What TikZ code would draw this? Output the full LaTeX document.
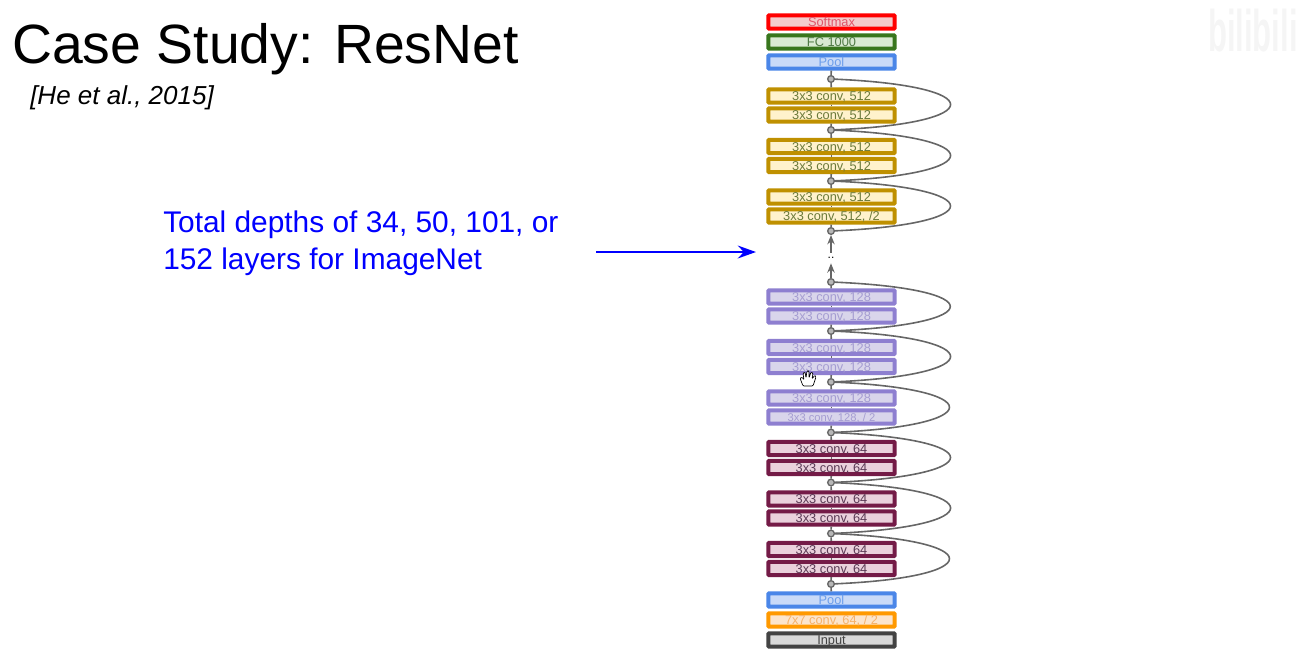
\documentclass[tikz,border=0pt]{standalone}
\usepackage{fontspec}
\setmainfont{Liberation Sans}
\usepackage{tikz}
\usetikzlibrary{arrows.meta}
\definecolor{SoftRed}{HTML}{FF0000}
\definecolor{SoftPale}{HTML}{F4CCCC}
\definecolor{SoftText}{HTML}{E0556A}
\definecolor{FcGreen}{HTML}{38761D}
\definecolor{FcPale}{HTML}{D9EAD3}
\definecolor{FcText}{HTML}{4F7A45}
\definecolor{PoolBlue}{HTML}{4A86E8}
\definecolor{PoolPale}{HTML}{C9DAF8}
\definecolor{PoolText}{HTML}{6D9EEB}
\definecolor{GoldLine}{HTML}{BF9000}
\definecolor{GoldPale}{HTML}{FFF2CC}
\definecolor{GoldText}{HTML}{6B7A3A}
\definecolor{PurpleLine}{HTML}{8E7FD0}
\definecolor{PurplePale}{HTML}{D9D5EB}
\definecolor{PurpleText}{HTML}{A59DD2}
\definecolor{WineLine}{HTML}{741B47}
\definecolor{WinePale}{HTML}{EAD1DC}
\definecolor{WineText}{HTML}{5B3A55}
\definecolor{OrangeLine}{HTML}{FF9900}
\definecolor{OrangePale}{HTML}{FCE5CD}
\definecolor{OrangeText}{HTML}{F6B26B}
\definecolor{InputLine}{HTML}{434343}
\definecolor{InputPale}{HTML}{D9D9D9}
\definecolor{LinkGray}{HTML}{666666}
\definecolor{JointGray}{HTML}{B7B7B7}
\definecolor{MarkGray}{HTML}{F5F5F5}

\begin{document}
\begin{tikzpicture}[>=stealth,x=0.75pt,y=-0.75pt]
  \tikzstyle{layerbox}=[draw,line width=3pt,inner sep=0pt,
    minimum width=94.6pt,minimum height=10pt,rounded corners=0.5pt,
    text height=7pt,text depth=0pt,
    font=\fontsize{9.6}{11}\selectfont]
  \tikzstyle{softbox}=[layerbox,draw=SoftRed,fill=SoftPale,text=SoftText]
  \tikzstyle{fcbox}=[layerbox,draw=FcGreen,fill=FcPale,text=FcText]
  \tikzstyle{poolbox}=[layerbox,draw=PoolBlue,fill=PoolPale,text=PoolText]
  \tikzstyle{goldbox}=[layerbox,draw=GoldLine,fill=GoldPale,text=GoldText]
  \tikzstyle{purplebox}=[layerbox,draw=PurpleLine,fill=PurplePale,text=PurpleText]
  \tikzstyle{winebox}=[layerbox,draw=WineLine,fill=WinePale,text=WineText]
  \tikzstyle{orangebox}=[layerbox,draw=OrangeLine,fill=OrangePale,text=OrangeText]
  \tikzstyle{inputbox}=[layerbox,draw=InputLine,fill=InputPale,text=InputLine]
  \tikzstyle{joint}=[circle,draw=LinkGray,fill=JointGray,line width=1pt,
    inner sep=0pt,minimum size=5pt]
  \tikzstyle{link}=[draw=LinkGray,line width=1.2pt]
  \tikzstyle{skip}=[link,out=-2.5,in=2.5,looseness=7.8]
  \tikzstyle{uptip}=[link,-{Stealth[length=7pt,width=5.5pt]}]

  \useasboundingbox (0,0) rectangle (1312,660);

  \node[anchor=base west,font=\fontsize{41.5}{46}\selectfont,inner sep=0pt] (title) at (12,64) {Case Study: ResNet};
  \node[anchor=base west,font=\fontsize{19.5}{24}\itshape,inner sep=0pt] (cite) at (30,104) {[He et al., 2015]};
  \node[anchor=north west,align=left,text=blue,inner sep=0pt,
    font=\fontsize{22.4}{27.75}\selectfont] (depths) at (163,211)
    {Total depths of 34, 50, 101, or\\152 layers for ImageNet};
  \node[anchor=base east,text=MarkGray,inner sep=0pt,xscale=0.53,transform shape,
    font=\fontsize{44}{46}\bfseries] (mark) at (1298,52) {bilibili};

  \coordinate (arrowfrom) at (596,252);
  \coordinate (arrowto) at (756,252);
  \draw[-{Stealth[length=13.5pt,width=9.5pt]},blue,line width=2.2pt] (arrowfrom)--(arrowto);

  \node[softbox] (softmax) at (831.5,22) {Softmax};
  \node[fcbox] (fc) at (831.5,42) {FC 1000};
  \node[poolbox] (pooltop) at (831.5,62) {Pool};
  \node[goldbox] (g1) at (831.5,96) {3x3 conv, 512};
  \node[goldbox] (g2) at (831.5,115) {3x3 conv, 512};
  \node[goldbox] (g3) at (831.5,146.5) {3x3 conv, 512};
  \node[goldbox] (g4) at (831.5,165.5) {3x3 conv, 512};
  \node[goldbox] (g5) at (831.5,197) {3x3 conv, 512};
  \node[goldbox] (g6) at (831.5,216) {3x3 conv, 512, /2};
  \node[purplebox] (p1) at (831.5,297) {3x3 conv, 128};
  \node[purplebox] (p2) at (831.5,316) {3x3 conv, 128};
  \node[purplebox] (p3) at (831.5,347.5) {3x3 conv, 128};
  \node[purplebox] (p4) at (831.5,366.5) {3x3 conv, 128};
  \node[purplebox] (p5) at (831.5,398) {3x3 conv, 128};
  \node[purplebox,font=\fontsize{8.4}{10}\selectfont] (p6) at (831.5,417) {3x3 conv, 128, / 2};
  \node[winebox] (w1) at (831.5,448.5) {3x3 conv, 64};
  \node[winebox] (w2) at (831.5,467.5) {3x3 conv, 64};
  \node[winebox] (w3) at (831.5,499) {3x3 conv, 64};
  \node[winebox] (w4) at (831.5,518) {3x3 conv, 64};
  \node[winebox] (w5) at (831.5,549.5) {3x3 conv, 64};
  \node[winebox] (w6) at (831.5,568.5) {3x3 conv, 64};
  \node[poolbox] (poolbot) at (831.5,600) {Pool};
  \node[orangebox] (conv7) at (831.5,620) {7x7 conv, 64, / 2};
  \node[inputbox] (input) at (831.5,640) {Input};

  \node[joint] (j1) at (831,79) {};
  \node[joint] (j2) at (831,130) {};
  \node[joint] (j3) at (831,181) {};
  \node[joint] (j4) at (831,231) {};
  \node[joint] (j5) at (831,282) {};
  \node[joint] (j6) at (831,331) {};
  \node[joint] (j7) at (831,382) {};
  \node[joint] (j8) at (831,432.5) {};
  \node[joint] (j9) at (831,482.5) {};
  \node[joint] (j10) at (831,533.5) {};
  \node[joint] (j11) at (831,584) {};
  \node[inner sep=0pt,minimum height=7.5pt,text=black,font=\fontsize{9}{9}\selectfont] (dots) at (831,258) {..};

  \draw[link] (j1)--(pooltop);
  \draw[link] (j1)--(g1);
  \draw[link] (g1)--(g2);
  \draw[link] (g2)--(j2);
  \draw[link] (j2)--(g3);
  \draw[link] (g3)--(g4);
  \draw[link] (g4)--(j3);
  \draw[link] (j3)--(g5);
  \draw[link] (g5)--(g6);
  \draw[link] (g6)--(j4);
  \draw[uptip] (dots)--(j4);
  \draw[uptip] (j5)--(dots);
  \draw[link] (j5)--(p1);
  \draw[link] (p1)--(p2);
  \draw[link] (p2)--(j6);
  \draw[link] (j6)--(p3);
  \draw[link] (p3)--(p4);
  \draw[link] (p4)--(j7);
  \draw[link] (j7)--(p5);
  \draw[link] (p5)--(p6);
  \draw[link] (p6)--(j8);
  \draw[link] (j8)--(w1);
  \draw[link] (w1)--(w2);
  \draw[link] (w2)--(j9);
  \draw[link] (j9)--(w3);
  \draw[link] (w3)--(w4);
  \draw[link] (w4)--(j10);
  \draw[link] (j10)--(w5);
  \draw[link] (w5)--(w6);
  \draw[link] (w6)--(j11);
  \draw[link] (j11)--(poolbot);

  \draw[skip] (j1) to (j2);
  \draw[skip] (j2) to (j3);
  \draw[skip,looseness=7.95] (j3) to (j4);
  \draw[skip,looseness=8.1] (j5) to (j6);
  \draw[skip] (j6) to (j7);
  \draw[skip] (j7) to (j8);
  \draw[skip,looseness=7.95] (j8) to (j9);
  \draw[skip] (j9) to (j10);
  \draw[skip] (j10) to (j11);

  \draw[fill=white,draw=black,line width=0.5pt,rounded corners=0.8pt]
    (803,386)--(800,378)--(802,377)--(804,380)--(803,373)--(805,372)--(806,378)
    --(807,371)--(809,371)--(809,378)--(811,372)--(813,373)--(812,379)--(815,375)
    --(816,377)--(813,386)--cycle;
\end{tikzpicture}
\end{document}
